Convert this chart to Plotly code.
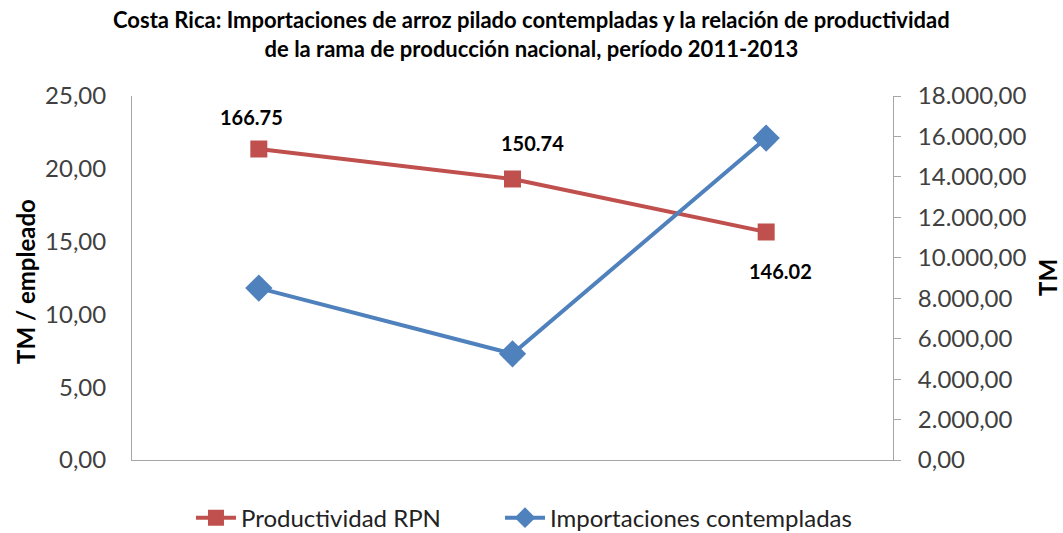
import plotly.graph_objects as go

categories = ["2011", "2012", "2013"]
productividad = [21.36, 19.30, 15.66]
productividad_labels = ["166.75", "150.74", "146.02"]
importaciones = [8500, 5250, 15920]

left_ticks = [0, 5, 10, 15, 20, 25]
left_ticktext = ["0,00", "5,00", "10,00", "15,00", "20,00", "25,00"]
right_ticks = [0, 2000, 4000, 6000, 8000, 10000, 12000, 14000, 16000, 18000]
right_ticktext = ["0,00", "2.000,00", "4.000,00", "6.000,00", "8.000,00", "10.000,00",
                  "12.000,00", "14.000,00", "16.000,00", "18.000,00"]

RED = "#C0504D"
BLUE = "#4F81BD"
FONT = "Lato, Open Sans, sans-serif"

xpos = list(range(len(categories)))

fig = go.Figure()
fig.add_trace(go.Scatter(
    x=xpos, y=productividad, name="Productividad RPN",
    mode="lines+markers",
    line=dict(color=RED, width=4),
    marker=dict(symbol="square", size=17, color=RED),
    yaxis="y", legend="legend",
))
fig.add_trace(go.Scatter(
    x=xpos, y=importaciones, name="Importaciones contempladas",
    mode="lines+markers",
    line=dict(color=BLUE, width=4),
    marker=dict(symbol="diamond", size=21, color=BLUE),
    yaxis="y2", legend="legend2",
))

label_yshift = [32, 36, -39]
label_xshift = [-7, 20, 14]
for i, v, t, ys, xs in zip(xpos, productividad, productividad_labels, label_yshift, label_xshift):
    fig.add_annotation(x=i, y=v, xref="x", yref="y", text="<b>" + t + "</b>",
                       showarrow=False, yshift=ys, xshift=xs,
                       font=dict(family=FONT, size=20, color="#000000"))

fig.add_annotation(x=0.5, y=1.0, xref="paper", yref="paper", yanchor="middle", xanchor="center",
                   text="<b>Costa Rica: Importaciones de arroz pilado contempladas y la relación de productividad<br>de la rama de producción nacional, período 2011-2013</b>",
                   showarrow=False, yshift=62, xshift=19,
                   font=dict(family=FONT, size=22, color="#000000"))
fig.add_annotation(x=0, y=0.5, xref="paper", yref="paper", xanchor="center", yanchor="middle",
                   text="<b>TM / empleado</b>", textangle=-90, showarrow=False,
                   xshift=-107, yshift=-4, font=dict(family=FONT, size=24, color="#000000"))
fig.add_annotation(x=1, y=0.5, xref="paper", yref="paper", xanchor="center", yanchor="middle",
                   text="<b>TM</b>", textangle=-90, showarrow=False,
                   xshift=154, font=dict(family=FONT, size=24, color="#000000"))

legend_common = dict(orientation="h", xanchor="left",
                     yref="container", y=0.028, yanchor="middle",
                     font=dict(family=FONT, size=24, color="#222222"),
                     itemwidth=40, bgcolor="rgba(0,0,0,0)")

fig.update_layout(
    width=1063, height=533,
    margin=dict(l=132, r=170, t=96, b=73),
    paper_bgcolor="white", plot_bgcolor="white",
    showlegend=True,
    legend=dict(x=0.0775, **legend_common),
    legend2=dict(x=0.4836, **legend_common),
    xaxis=dict(range=[-0.5, 2.5], showticklabels=False, ticks="",
               showline=True, linecolor="#A6A6A6", linewidth=1, showgrid=False, zeroline=False),
    yaxis=dict(range=[0, 25], tickvals=left_ticks, ticktext=left_ticktext,
               showline=True, linecolor="#A6A6A6", linewidth=1, showgrid=False, zeroline=False,
               ticks="", ticklabelstandoff=20,
               tickfont=dict(family=FONT, size=24, color="#404040")),
    yaxis2=dict(range=[0, 18000], tickvals=right_ticks, ticktext=right_ticktext,
                overlaying="y", side="right",
                showline=True, linecolor="#A6A6A6", linewidth=1, showgrid=False, zeroline=False,
                ticks="outside", ticklen=7, tickcolor="#A6A6A6", ticklabelstandoff=12,
                tickfont=dict(family=FONT, size=24, color="#404040")),
)

fig.write_html("out.html", config={"displayModeBar": False},
               post_script="document.body.style.margin='0';")
